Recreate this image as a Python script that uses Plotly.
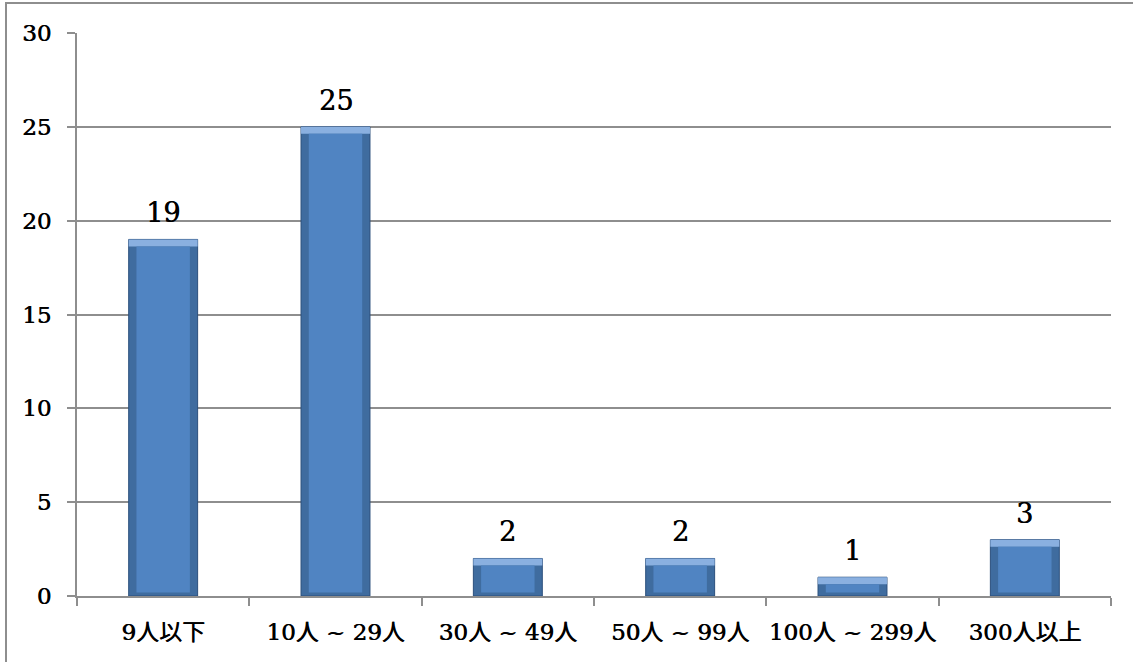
import plotly.graph_objects as go

# Number of respondents by company size
categories = ["9人以下", "10人 ~ 29人", "30人 ~ 49人", "50人 ~ 99人", "100人 ~ 299人", "300人以上"]
counts = [19, 25, 2, 2, 1, 3]
y_ticks = [0, 5, 10, 15, 20, 25, 30]

BEVEL = 0.37      # depth of the bevelled top edge, in axis units
BASE_EDGE = 0.18  # darker strip along the bottom of each bar
BAR_W = 0.4
FACE_W = 0.31

W, H = 1133, 662
L, R, T, B = 77, 22, 33, 66
plot_w, plot_h = W - L - R, H - T - B

GRID = "#8E8E8E"
SERIF = "DejaVu Serif, Noto Sans CJK JP, serif"
HEAVY = "0.6px 0 0 #000"   # slight stroke thickening for the labels

fig = go.Figure()

# dark body (forms the side and bottom bevels)
fig.add_trace(go.Bar(
    x=categories, y=counts, width=BAR_W,
    marker=dict(color="#3F6C9F", line=dict(color="#2B4F7C", width=1)),
    hoverinfo="skip",
))
# light highlight along the top edge
fig.add_trace(go.Bar(
    x=categories, y=[BEVEL] * len(counts), base=[c - BEVEL for c in counts], width=BAR_W,
    marker=dict(color="#8AB0E0", line=dict(width=0)),
    hoverinfo="skip",
))
# main face
fig.add_trace(go.Bar(
    x=categories, y=[c - BEVEL - BASE_EDGE for c in counts], base=BASE_EDGE, width=FACE_W,
    marker=dict(color="#5084C2", line=dict(width=0)),
    customdata=counts, hovertemplate="%{x}: %{customdata}<extra></extra>",
))

# value labels above the bars
for cat, val in zip(categories, counts):
    fig.add_annotation(
        x=cat, y=val, text=str(val), showarrow=False,
        yanchor="bottom", yshift=9,
        font=dict(family=SERIF, size=27, color="black", shadow=HEAVY),
    )

# outer chart frame
def px_x(p):
    return (p - L) / plot_w

def px_y(p):
    return (H - B - p) / plot_h

fig.add_shape(
    type="rect", xref="paper", yref="paper",
    x0=px_x(6), x1=px_x(W + 10), y0=px_y(H + 10), y1=px_y(3),
    line=dict(color=GRID, width=2), fillcolor="rgba(0,0,0,0)", layer="below",
)

fig.update_layout(
    width=W, height=H,
    margin=dict(l=L, r=R, t=T, b=B, autoexpand=False),
    paper_bgcolor="white", plot_bgcolor="white",
    barmode="overlay", showlegend=False,
    font=dict(family=SERIF, color="black"),
)
fig.update_yaxes(
    range=[0, 30], tickvals=y_ticks, automargin=False,
    showgrid=True, gridcolor=GRID, gridwidth=1.5,
    showline=True, linecolor=GRID, linewidth=2,
    ticks="outside", ticklen=8, tickcolor=GRID, tickwidth=2,
    zeroline=False, ticklabelstandoff=11,
    tickfont=dict(family=SERIF, size=23, color="black", shadow=HEAVY),
)
fig.update_xaxes(
    automargin=False, tickangle=0,
    showline=True, linecolor=GRID, linewidth=2,
    ticks="outside", ticklen=8, tickcolor=GRID, tickwidth=2,
    tickson="boundaries", ticklabelstandoff=14,
    tickfont=dict(family=SERIF, size=23, color="black", shadow=HEAVY),
)

fig.write_html("out.html")
